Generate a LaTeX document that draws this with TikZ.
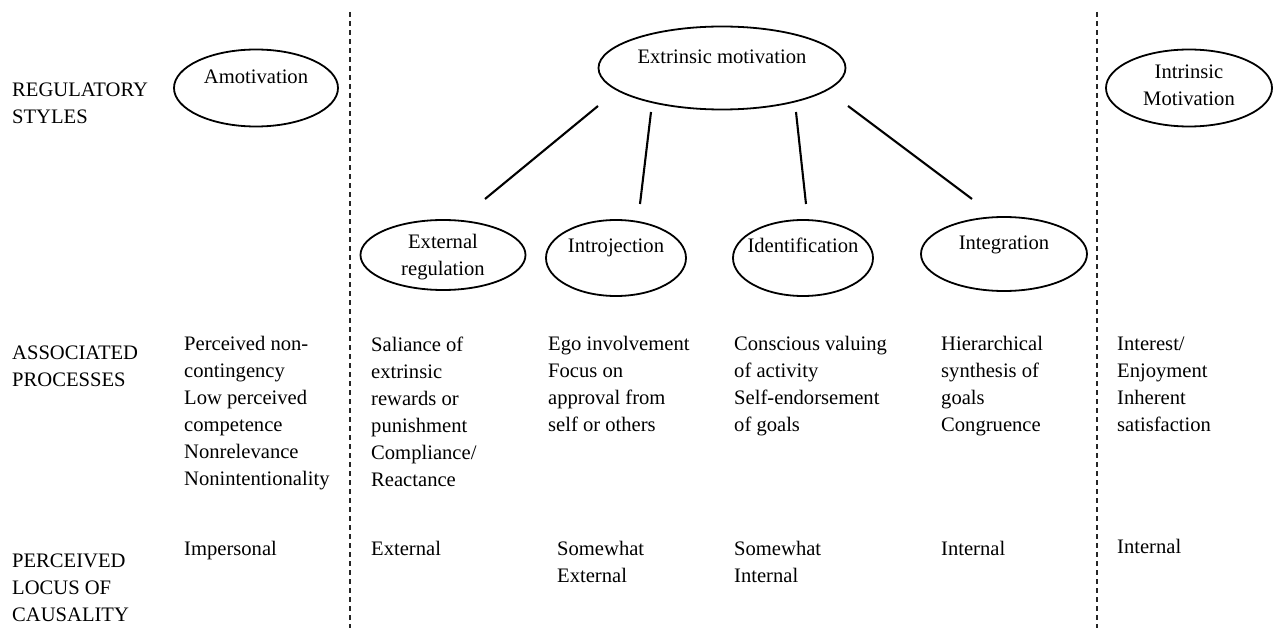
\documentclass[tikz,border=0pt]{standalone}
\usepackage{fontspec}
\setmainfont{Liberation Serif}
\usetikzlibrary{shapes.geometric}
\begin{document}
\begin{tikzpicture}[x=1bp,y=-1bp,
  every node/.style={inner sep=0pt, font=\fontsize{20.6bp}{27bp}\selectfont},
  ell/.style={draw, ellipse, line width=1.8bp},
  txt/.style={anchor=north west, align=left},
  etxt/.style={anchor=base},
  conn/.style={line width=2.1bp},
  sepline/.style={dash pattern=on 5bp off 4bp, line width=1.5bp, black!85}]
\useasboundingbox (0,0) rectangle (1282,628);

% separators
\coordinate (d1t) at (350,12);
\coordinate (d1b) at (350,628);
\coordinate (d2t) at (1097,12);
\coordinate (d2b) at (1097,628);
\draw[sepline] (d1t) -- (d1b);
\draw[sepline] (d2t) -- (d2b);

% row labels
\node[txt] (rs) at (12,83) {REGULATORY\\STYLES};
\node[txt] (ap) at (12,346) {ASSOCIATED\\PROCESSES};
\node[txt] (pl) at (12,554) {PERCEIVED\\LOCUS OF\\CAUSALITY};

% ellipses
\node[ell, minimum width=164bp, minimum height=77bp] (amo) at (256,88) {};
\node[etxt] (amot) at ([yshift=4.5bp]amo.center) {Amotivation};
\node[ell, minimum width=247bp, minimum height=83bp] (ext) at (722,68) {};
\node[etxt] (extt) at ([yshift=4.5bp]ext.center) {Extrinsic motivation};
\node[ell, minimum width=166bp, minimum height=77bp] (intr) at (1189,88) {};
\node[align=center] (intrt) at ([yshift=3bp]intr.center) {Intrinsic\\Motivation};

\node[ell, minimum width=165bp, minimum height=70bp] (er) at (443,255) {};
\node[align=center] (ert) at ([yshift=-2bp]er.center) {External\\regulation};
\node[ell, minimum width=140bp, minimum height=76bp] (intro) at (616,258) {};
\node[etxt] (introt) at ([yshift=5.5bp]intro.center) {Introjection};
\node[ell, minimum width=140bp, minimum height=76bp] (ident) at (803,258) {};
\node[etxt] (identt) at ([yshift=5.5bp]ident.center) {Identification};
\node[ell, minimum width=166bp, minimum height=74bp] (integ) at (1004,254) {};
\node[etxt] (integt) at ([yshift=4.5bp]integ.center) {Integration};

% connectors
\draw[conn] ([shift={(-124,38)}]ext.center) -- ([shift={(42,-56)}]er.center);
\draw[conn] ([shift={(-71,44)}]ext.center) -- ([shift={(24,-54)}]intro.center);
\draw[conn] ([shift={(74,44)}]ext.center) -- ([shift={(3,-54)}]ident.center);
\draw[conn] ([shift={(126,38)}]ext.center) -- ([shift={(-32,-55)}]integ.center);

% associated processes
\node[txt] (p1) at (184,336.5) {Perceived non-\\contingency\\Low perceived\\competence\\Nonrelevance\\Nonintentionality};
\node[txt] (p2) at (371,336.5) {Saliance of\\extrinsic\\rewards or\\punishment\\Compliance/\\Reactance};
\node[txt] (p3) at (548,336.5) {Ego involvement\\Focus on\\approval from\\self or others};
\node[txt] (p4) at (734,336.5) {Conscious valuing\\of activity\\Self-endorsement\\of goals};
\node[txt] (p5) at (941,336.5) {Hierarchical\\synthesis of\\goals\\Congruence};
\node[txt] (p6) at (1117,336.5) {Interest/\\Enjoyment\\Inherent\\satisfaction};

% perceived locus of causality
\node[txt] (l1) at (184,541.5) {Impersonal};
\node[txt] (l2) at (371,541.5) {External};
\node[txt] (l3) at (557,541.5) {Somewhat\\External};
\node[txt] (l4) at (734,541.5) {Somewhat\\Internal};
\node[txt] (l5) at (941,541.5) {Internal};
\node[txt] (l6) at (1117,539.5) {Internal};
\end{tikzpicture}
\end{document}
